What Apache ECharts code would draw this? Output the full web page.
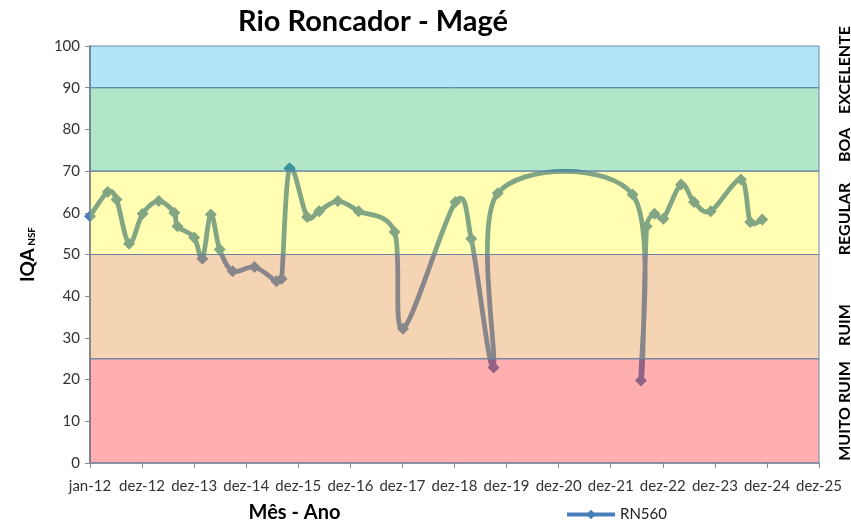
<!DOCTYPE html>
<html>
<head>
<meta charset="utf-8">
<script src="https://cdn.jsdelivr.net/npm/echarts@6/dist/echarts.min.js"></script>
<style>
html, body { margin: 0; background: #fff; }
#chart { width: 851px; height: 524px; }
</style>
</head>
<body>
<div id="chart"></div>
<script>
// sampling dates and IQA values
var sampleDates = [
    '2012-01-01', '2012-05-04', '2012-07-05', '2012-10-01',
    '2013-01-04', '2013-04-27', '2013-08-14', '2013-09-05', '2013-12-31',
    '2014-02-27', '2014-04-27', '2014-06-28', '2014-09-27',
    '2015-02-27', '2015-07-31', '2015-09-05', '2015-10-30',
    '2016-03-02', '2016-05-25', '2016-10-03',
    '2017-02-26', '2017-11-05', '2018-01-03',
    '2019-01-06', '2019-04-26', '2019-09-30', '2019-10-29',
    '2022-05-31', '2022-07-29', '2022-09-07', '2022-11-01',
    '2023-01-02', '2023-05-06', '2023-08-05', '2023-11-30',
    '2024-06-29', '2024-09-02', '2024-11-25'
];
var iqaValues = [
    59.2, 65.0, 63.2, 52.6,
    59.8, 62.8, 60.0, 56.8, 54.1,
    49.0, 59.6, 51.2, 46.0,
    47.0, 43.6, 44.2, 70.7,
    59.0, 60.4, 62.8,
    60.4, 55.4, 32.2,
    62.6, 53.8, 22.9, 64.7,
    64.4, 19.8, 56.8, 59.8,
    58.6, 66.8, 62.6, 60.4,
    68.0, 57.8, 58.4
];
var xTickLabels = ['jan-12', 'dez-12', 'dez-13', 'dez-14', 'dez-15', 'dez-16', 'dez-17',
    'dez-18', 'dez-19', 'dez-20', 'dez-21', 'dez-22', 'dez-23', 'dez-24', 'dez-25'];

// quality classes
var bandLow = [0, 25, 50, 70, 90];
var bandHigh = [25, 50, 70, 90, 100];
var bandNames = ['MUITO RUIM', 'RUIM', 'REGULAR', 'BOA', 'EXCELENTE'];
var bandColors = ['rgba(255,55,55,0.4)', 'rgba(230,148,68,0.4)', 'rgba(255,252,5,0.31)',
    'rgba(35,184,98,0.35)', 'rgba(35,184,229,0.35)'];

var DAY = 86400000;
var origin = Date.UTC(2012, 0, 1);
var xMax = 365 * (xTickLabels.length - 1);

var points = sampleDates.map(function(d, i) {
    return [(Date.parse(d) - origin) / DAY, iqaValues[i]];
});
var bands = bandLow.map(function(lo, i) {
    return [lo, bandHigh[i]];
});

var font = 'Lato';
var lineColor = '#4a7ebb';
// rotated class labels on the right, centred near each band
var sideLabelY = [411, 325, 219, 145, 70];

function dist(a, b) {
    return Math.sqrt((a[0] - b[0]) * (a[0] - b[0]) + (a[1] - b[1]) * (a[1] - b[1]));
}

// spreadsheet-style smoothed curve (bezier, 1/6 tension, capped to half the segment)
function smoothPath(px) {
    var d = 'M' + px[0][0] + ' ' + px[0][1];
    for (var i = 0; i < px.length - 1; i++) {
        var p0 = px[Math.max(i - 1, 0)], p1 = px[i], p2 = px[i + 1], p3 = px[Math.min(i + 2, px.length - 1)];
        var d12 = dist(p1, p2), d02 = dist(p0, p2), d13 = dist(p1, p3);
        var f = d02 > 0 ? Math.min(1 / 6, d12 / 2 / d02) : 0;
        var g = d13 > 0 ? Math.min(1 / 6, d12 / 2 / d13) : 0;
        var c1 = [p1[0] + (p2[0] - p0[0]) * f, p1[1] + (p2[1] - p0[1]) * f];
        var c2 = [p2[0] - (p3[0] - p1[0]) * g, p2[1] - (p3[1] - p1[1]) * g];
        d += ' C' + c1[0] + ' ' + c1[1] + ' ' + c2[0] + ' ' + c2[1] + ' ' + p2[0] + ' ' + p2[1];
    }
    return d;
}

var chart = echarts.init(document.getElementById('chart'));
chart.setOption({
    animation: false,
    textStyle: { fontFamily: font },
    title: {
        text: 'Rio Roncador - Magé',
        left: 233,
        top: 2,
        textStyle: { fontSize: 29, fontWeight: 'bold', color: '#000', fontFamily: font }
    },
    legend: {
        data: ['RN560'],
        left: 560,
        top: 502,
        itemWidth: 48,
        itemHeight: 12,
        itemGap: 4,
        lineStyle: { width: 4, color: lineColor, opacity: 1 },
        textStyle: { fontSize: 15, color: '#222', fontFamily: font }
    },
    grid: { left: 90, right: 32, top: 46, bottom: 61, outerBoundsMode: 'none' },
    xAxis: {
        type: 'value',
        min: 0,
        max: xMax,
        interval: 365,
        name: 'Mês - Ano',
        nameLocation: 'middle',
        nameGap: 40,
        nameTextStyle: { fontSize: 20, fontWeight: 'bold', color: '#000', padding: [0, 320, 0, 0] },
        axisLine: { lineStyle: { color: '#7d8aa0', width: 1.5 } },
        axisTick: { length: 5, lineStyle: { color: '#8a8a8a' } },
        axisLabel: {
            fontSize: 15,
            color: '#333',
            margin: 16,
            formatter: function(v) { return xTickLabels[Math.round(v / 365)]; }
        },
        splitLine: { show: false }
    },
    yAxis: {
        type: 'value',
        min: 0,
        max: 100,
        interval: 10,
        name: '{a|IQA}{b| NSF}',
        nameLocation: 'middle',
        nameGap: 53,
        nameTextStyle: {
            rich: {
                a: { fontSize: 19, fontWeight: 'bold', color: '#000', fontFamily: font },
                b: { fontSize: 10, fontWeight: 'bold', color: '#000', fontFamily: font, padding: [8, 0, 0, 0] }
            }
        },
        axisLine: { show: true, lineStyle: { color: '#8a8a8a', width: 2 } },
        axisTick: { show: true, length: 5, lineStyle: { color: '#8a8a8a' } },
        axisLabel: { fontSize: 15, color: '#333', margin: 10 },
        splitLine: { show: false }
    },
    graphic: bandNames.map(function(name, i) {
        return {
            type: 'text',
            x: 845,
            y: sideLabelY[i],
            rotation: Math.PI / 2,
            style: {
                text: name,
                align: 'center',
                verticalAlign: 'middle',
                font: 'bold 16px ' + font,
                fill: '#000'
            }
        };
    }),
    series: [{
        // smoothed curve through all samples
        type: 'custom',
        data: points,
        z: 2,
        silent: true,
        clip: false,
        renderItem: function(params, api) {
            if (params.dataIndex !== 0) return null;
            var px = points.map(function(p) { return api.coord(p); });
            return {
                type: 'path',
                shape: { pathData: smoothPath(px) },
                style: { fill: 'none', stroke: lineColor, lineWidth: 4.8, lineJoin: 'round', lineCap: 'round' }
            };
        }
    }, {
        name: 'RN560',
        type: 'line',
        data: points,
        symbol: 'diamond',
        symbolSize: 12,
        clip: false,
        z: 3,
        lineStyle: { width: 0, opacity: 0 },
        itemStyle: { color: lineColor }
    }, {
        // translucent class bands drawn over the line, as in the original
        type: 'custom',
        data: bands,
        z: 5,
        silent: true,
        encode: { x: -1, y: [0, 1] },
        renderItem: function(params, api) {
            var lo = api.value(0);
            var hi = api.value(1);
            var p0 = api.coord([0, hi]);
            var p1 = api.coord([xMax, lo]);
            return {
                type: 'rect',
                shape: { x: p0[0], y: p0[1], width: p1[0] - p0[0], height: p1[1] - p0[1] },
                style: { fill: bandColors[params.dataIndex], stroke: '#6a84a8', lineWidth: 1 }
            };
        }
    }]
});
</script>
</body>
</html>
